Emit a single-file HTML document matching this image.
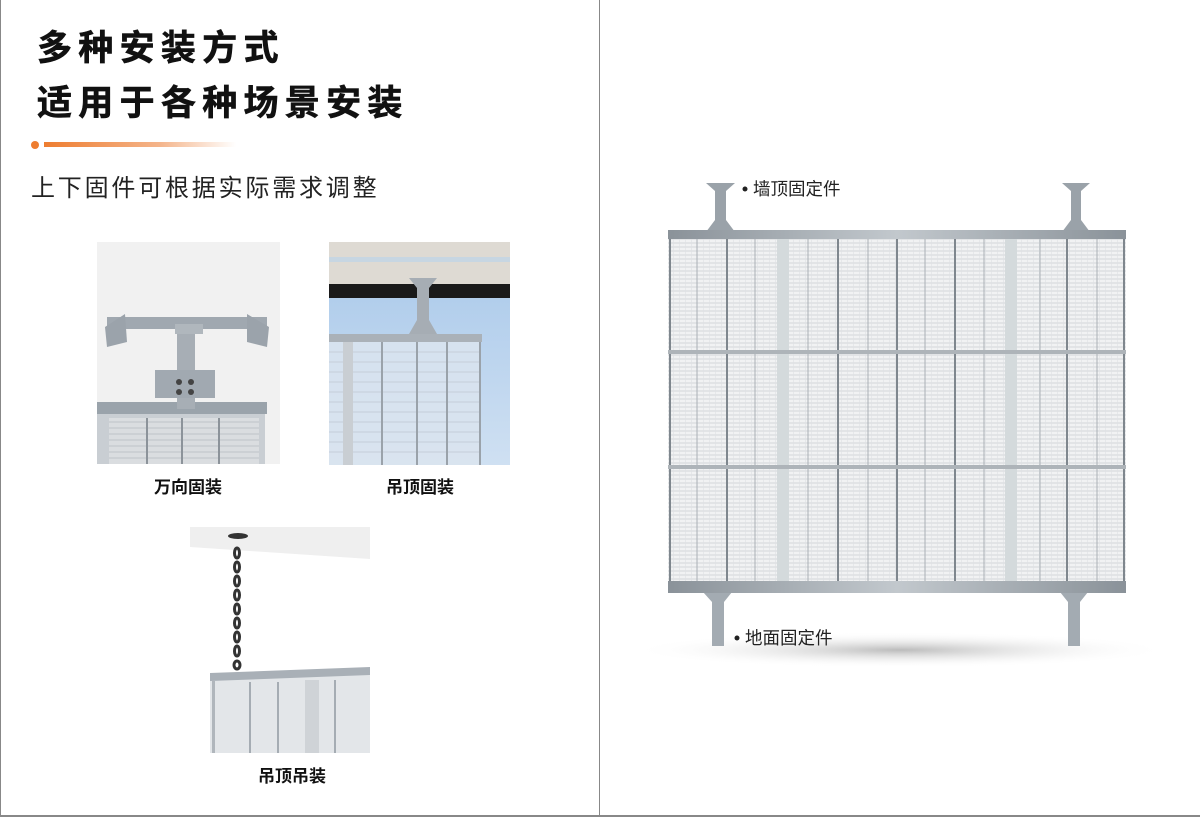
<!DOCTYPE html>
<html><head><meta charset="utf-8"><style>
html,body{margin:0;padding:0;background:#fff}
body{width:1200px;height:817px;position:relative;overflow:hidden;font-family:"Liberation Sans","Noto Sans CJK SC",sans-serif}
.abs{position:absolute}
.t{font-weight:bold;font-size:35px;color:#111;letter-spacing:6.3px;left:37px;line-height:40px;-webkit-text-stroke:0.6px #111}
.lab{font-size:17px;font-weight:bold;color:#111;text-align:center;width:200px}
</style></head><body>
<div class="abs" style="left:0;top:0;width:1px;height:817px;background:#888"></div>
<div class="abs" style="left:599px;top:0;width:1px;height:817px;background:#888"></div>
<div class="abs" style="left:0;top:815px;width:1200px;height:2px;background:#888"></div>
<div class="abs t" style="top:29px">多种安装方式</div>
<div class="abs t" style="top:84px">适用于各种场景安装</div>
<div class="abs" style="left:31px;top:141px;width:8px;height:8px;border-radius:50%;background:#ee7d30"></div>
<div class="abs" style="left:44px;top:142px;width:192px;height:5px;background:linear-gradient(90deg,#ee7d30,#f4b48a 60%,#fff)"></div>
<div class="abs" style="left:31px;top:168px;font-size:24px;color:#222;letter-spacing:2.8px">上下固件可根据实际需求调整</div>

<!-- image 1 -->
<svg class="abs" style="left:97px;top:242px" width="183" height="222">
<rect width="183" height="222" fill="#f1f1f1"/>
<rect x="0" y="168" width="168" height="54" fill="#c9ced3"/>
<rect x="12" y="176" width="150" height="46" fill="#dadde0"/>
<g stroke="#bfc3c8" stroke-width="1"><line x1="12" y1="180" x2="162" y2="180"/><line x1="12" y1="186" x2="162" y2="186"/><line x1="12" y1="192" x2="162" y2="192"/><line x1="12" y1="198" x2="162" y2="198"/><line x1="12" y1="204" x2="162" y2="204"/><line x1="12" y1="210" x2="162" y2="210"/><line x1="12" y1="216" x2="162" y2="216"/></g>
<g stroke="#8c939a" stroke-width="2"><line x1="50" y1="176" x2="50" y2="222"/><line x1="85" y1="176" x2="85" y2="222"/><line x1="122" y1="176" x2="122" y2="222"/></g>
<rect x="0" y="160" width="170" height="12" fill="#9aa3ab"/>
<rect x="10" y="75" width="160" height="12" fill="#a0a8b0"/>
<polygon points="8,85 28,72 30,100 10,105" fill="#9ba3ab"/>
<polygon points="150,72 172,85 170,105 150,100" fill="#9ba3ab"/>
<rect x="80" y="82" width="18" height="85" fill="#a7aeb5"/>
<rect x="58" y="128" width="60" height="28" fill="#a1a9b1"/>
<rect x="78" y="82" width="28" height="10" fill="#b0b7bd"/>
<circle cx="82" cy="140" r="3" fill="#444"/><circle cx="94" cy="140" r="3" fill="#444"/><circle cx="82" cy="150" r="3" fill="#444"/><circle cx="94" cy="150" r="3" fill="#444"/>
</svg>
<div class="abs lab" style="left:88px;top:473px">万向固装</div>

<!-- image 2 -->
<svg class="abs" style="left:329px;top:242px" width="181" height="223">
<defs><linearGradient id="sky" x1="0" y1="0" x2="0" y2="1"><stop offset="0" stop-color="#a8c8ea"/><stop offset="1" stop-color="#cfe0f2"/></linearGradient></defs>
<rect width="181" height="223" fill="url(#sky)"/>
<rect width="181" height="42" fill="#dedad3"/>
<rect y="15" width="181" height="5" fill="#c7d6e2"/>
<rect y="42" width="181" height="14" fill="#1a1a1a"/>
<rect x="0" y="100" width="152" height="123" fill="#dbe4ee" opacity="0.85"/>
<g stroke="#c5ced8" stroke-width="1">
<line x1="0" y1="110" x2="152" y2="110"/><line x1="0" y1="120" x2="152" y2="120"/><line x1="0" y1="130" x2="152" y2="130"/><line x1="0" y1="140" x2="152" y2="140"/><line x1="0" y1="150" x2="152" y2="150"/><line x1="0" y1="160" x2="152" y2="160"/><line x1="0" y1="170" x2="152" y2="170"/><line x1="0" y1="180" x2="152" y2="180"/><line x1="0" y1="190" x2="152" y2="190"/><line x1="0" y1="200" x2="152" y2="200"/><line x1="0" y1="210" x2="152" y2="210"/></g>
<rect x="14" y="100" width="10" height="123" fill="#c9ced3"/>
<g stroke="#9aa2aa" stroke-width="2"><line x1="53" y1="100" x2="53" y2="223"/><line x1="88" y1="100" x2="88" y2="223"/><line x1="118" y1="100" x2="118" y2="223"/><line x1="151" y1="100" x2="151" y2="223"/></g>
<rect x="0" y="92" width="153" height="8" fill="#aab1b8"/>
<polygon points="80,36 108,36 100,46 100,78 108,92 80,92 88,78 88,46" fill="#a6adb4"/>
</svg>
<div class="abs lab" style="left:320px;top:473px">吊顶固装</div>

<!-- image 3 -->
<svg class="abs" style="left:190px;top:527px" width="180" height="226">
<polygon points="0,0 180,0 180,32 0,20" fill="#efefef"/>
<ellipse cx="48" cy="9" rx="10" ry="3" fill="#333"/>
<g fill="none" stroke="#333" stroke-width="3">
<ellipse cx="47" cy="26" rx="2.5" ry="5"/><ellipse cx="47" cy="40" rx="2.5" ry="5"/><ellipse cx="47" cy="54" rx="2.5" ry="5"/><ellipse cx="47" cy="68" rx="2.5" ry="5"/><ellipse cx="47" cy="82" rx="2.5" ry="5"/><ellipse cx="47" cy="96" rx="2.5" ry="5"/><ellipse cx="47" cy="110" rx="2.5" ry="5"/><ellipse cx="47" cy="124" rx="2.5" ry="5"/><ellipse cx="47" cy="138" rx="3" ry="4"/></g>
<polygon points="20,150 180,144 180,226 20,226" fill="#e3e6e9"/>
<polygon points="20,146 180,140 180,148 20,154" fill="#a9b0b7"/>
<g stroke="#a5acb3" stroke-width="2"><line x1="60" y1="155" x2="60" y2="226"/><line x1="88" y1="155" x2="88" y2="226"/><line x1="145" y1="153" x2="145" y2="226"/></g>
<rect x="115" y="153" width="14" height="73" fill="#cfd3d7"/>
<rect x="22" y="154" width="3" height="72" fill="#b0b6bc"/>
</svg>
<div class="abs lab" style="left:192px;top:762px">吊顶吊装</div>

<!-- right big screen -->
<svg class="abs" style="left:620px;top:160px" width="560" height="520">
<defs>
<pattern id="mesh" width="6" height="4" patternUnits="userSpaceOnUse">
<rect width="6" height="4" fill="#f1f2f3"/><rect y="2.5" width="6" height="1" fill="#d3d6d9"/><rect x="5" width="0.6" height="4" fill="#dfe2e4"/></pattern>
<radialGradient id="sh" cx="0.5" cy="0.5" r="0.5"><stop offset="0" stop-color="#bbb"/><stop offset="1" stop-color="#fff" stop-opacity="0"/></radialGradient>
<linearGradient id="rail" x1="0" y1="0" x2="1" y2="0"><stop offset="0" stop-color="#8a9299"/><stop offset="0.5" stop-color="#c2c8cd"/><stop offset="1" stop-color="#8a9299"/></linearGradient>
</defs>
<ellipse cx="280" cy="490" rx="270" ry="18" fill="url(#sh)"/>
<polygon points="86,23 115,23 106,31 106,60 115,72 86,72 95,60 95,31" fill="#9aa2a9"/>
<polygon points="442,23 470,23 461,31 461,60 470,72 442,72 451,60 451,31" fill="#9aa2a9"/>
<polygon points="83,432 112,432 104,442 104,486 92,486 92,442" fill="#a3abb2"/>
<polygon points="440,432 468,432 460,442 460,486 448,486 448,442" fill="#a3abb2"/>
<rect x="48" y="77" width="458" height="355" fill="url(#mesh)"/>
<g stroke="#aab0b6" stroke-width="1">
<line x1="77" y1="77" x2="77" y2="432"/><line x1="135" y1="77" x2="135" y2="432"/><line x1="188" y1="77" x2="188" y2="432"/><line x1="248" y1="77" x2="248" y2="432"/><line x1="305" y1="77" x2="305" y2="432"/><line x1="364" y1="77" x2="364" y2="432"/><line x1="420" y1="77" x2="420" y2="432"/><line x1="477" y1="77" x2="477" y2="432"/></g>
<g stroke="#7f878e" stroke-width="2">
<line x1="107" y1="77" x2="107" y2="432"/><line x1="218" y1="77" x2="218" y2="432"/><line x1="277" y1="77" x2="277" y2="432"/><line x1="335" y1="77" x2="335" y2="432"/><line x1="447" y1="77" x2="447" y2="432"/><line x1="50" y1="77" x2="50" y2="432"/><line x1="504" y1="77" x2="504" y2="432"/></g>
<rect x="157" y="77" width="12" height="355" fill="#d4dadc"/>
<rect x="385" y="77" width="12" height="355" fill="#d4dadc"/>
<rect x="48" y="190" width="458" height="4" fill="#aeb4b9"/>
<rect x="48" y="305" width="458" height="4" fill="#aeb4b9"/>
<rect x="48" y="70" width="458" height="9" fill="url(#rail)"/>
<rect x="48" y="421" width="458" height="12" fill="url(#rail)"/>
<circle cx="125" cy="29" r="2.5" fill="#222"/>
<text x="133" y="35" font-size="17.5" fill="#222" font-family="Liberation Sans, Noto Sans CJK SC, sans-serif">墙顶固定件</text>
<circle cx="117" cy="478" r="2.5" fill="#222"/>
<text x="125" y="484" font-size="17.5" fill="#222" font-family="Liberation Sans, Noto Sans CJK SC, sans-serif">地面固定件</text>
</svg>
</body></html>
